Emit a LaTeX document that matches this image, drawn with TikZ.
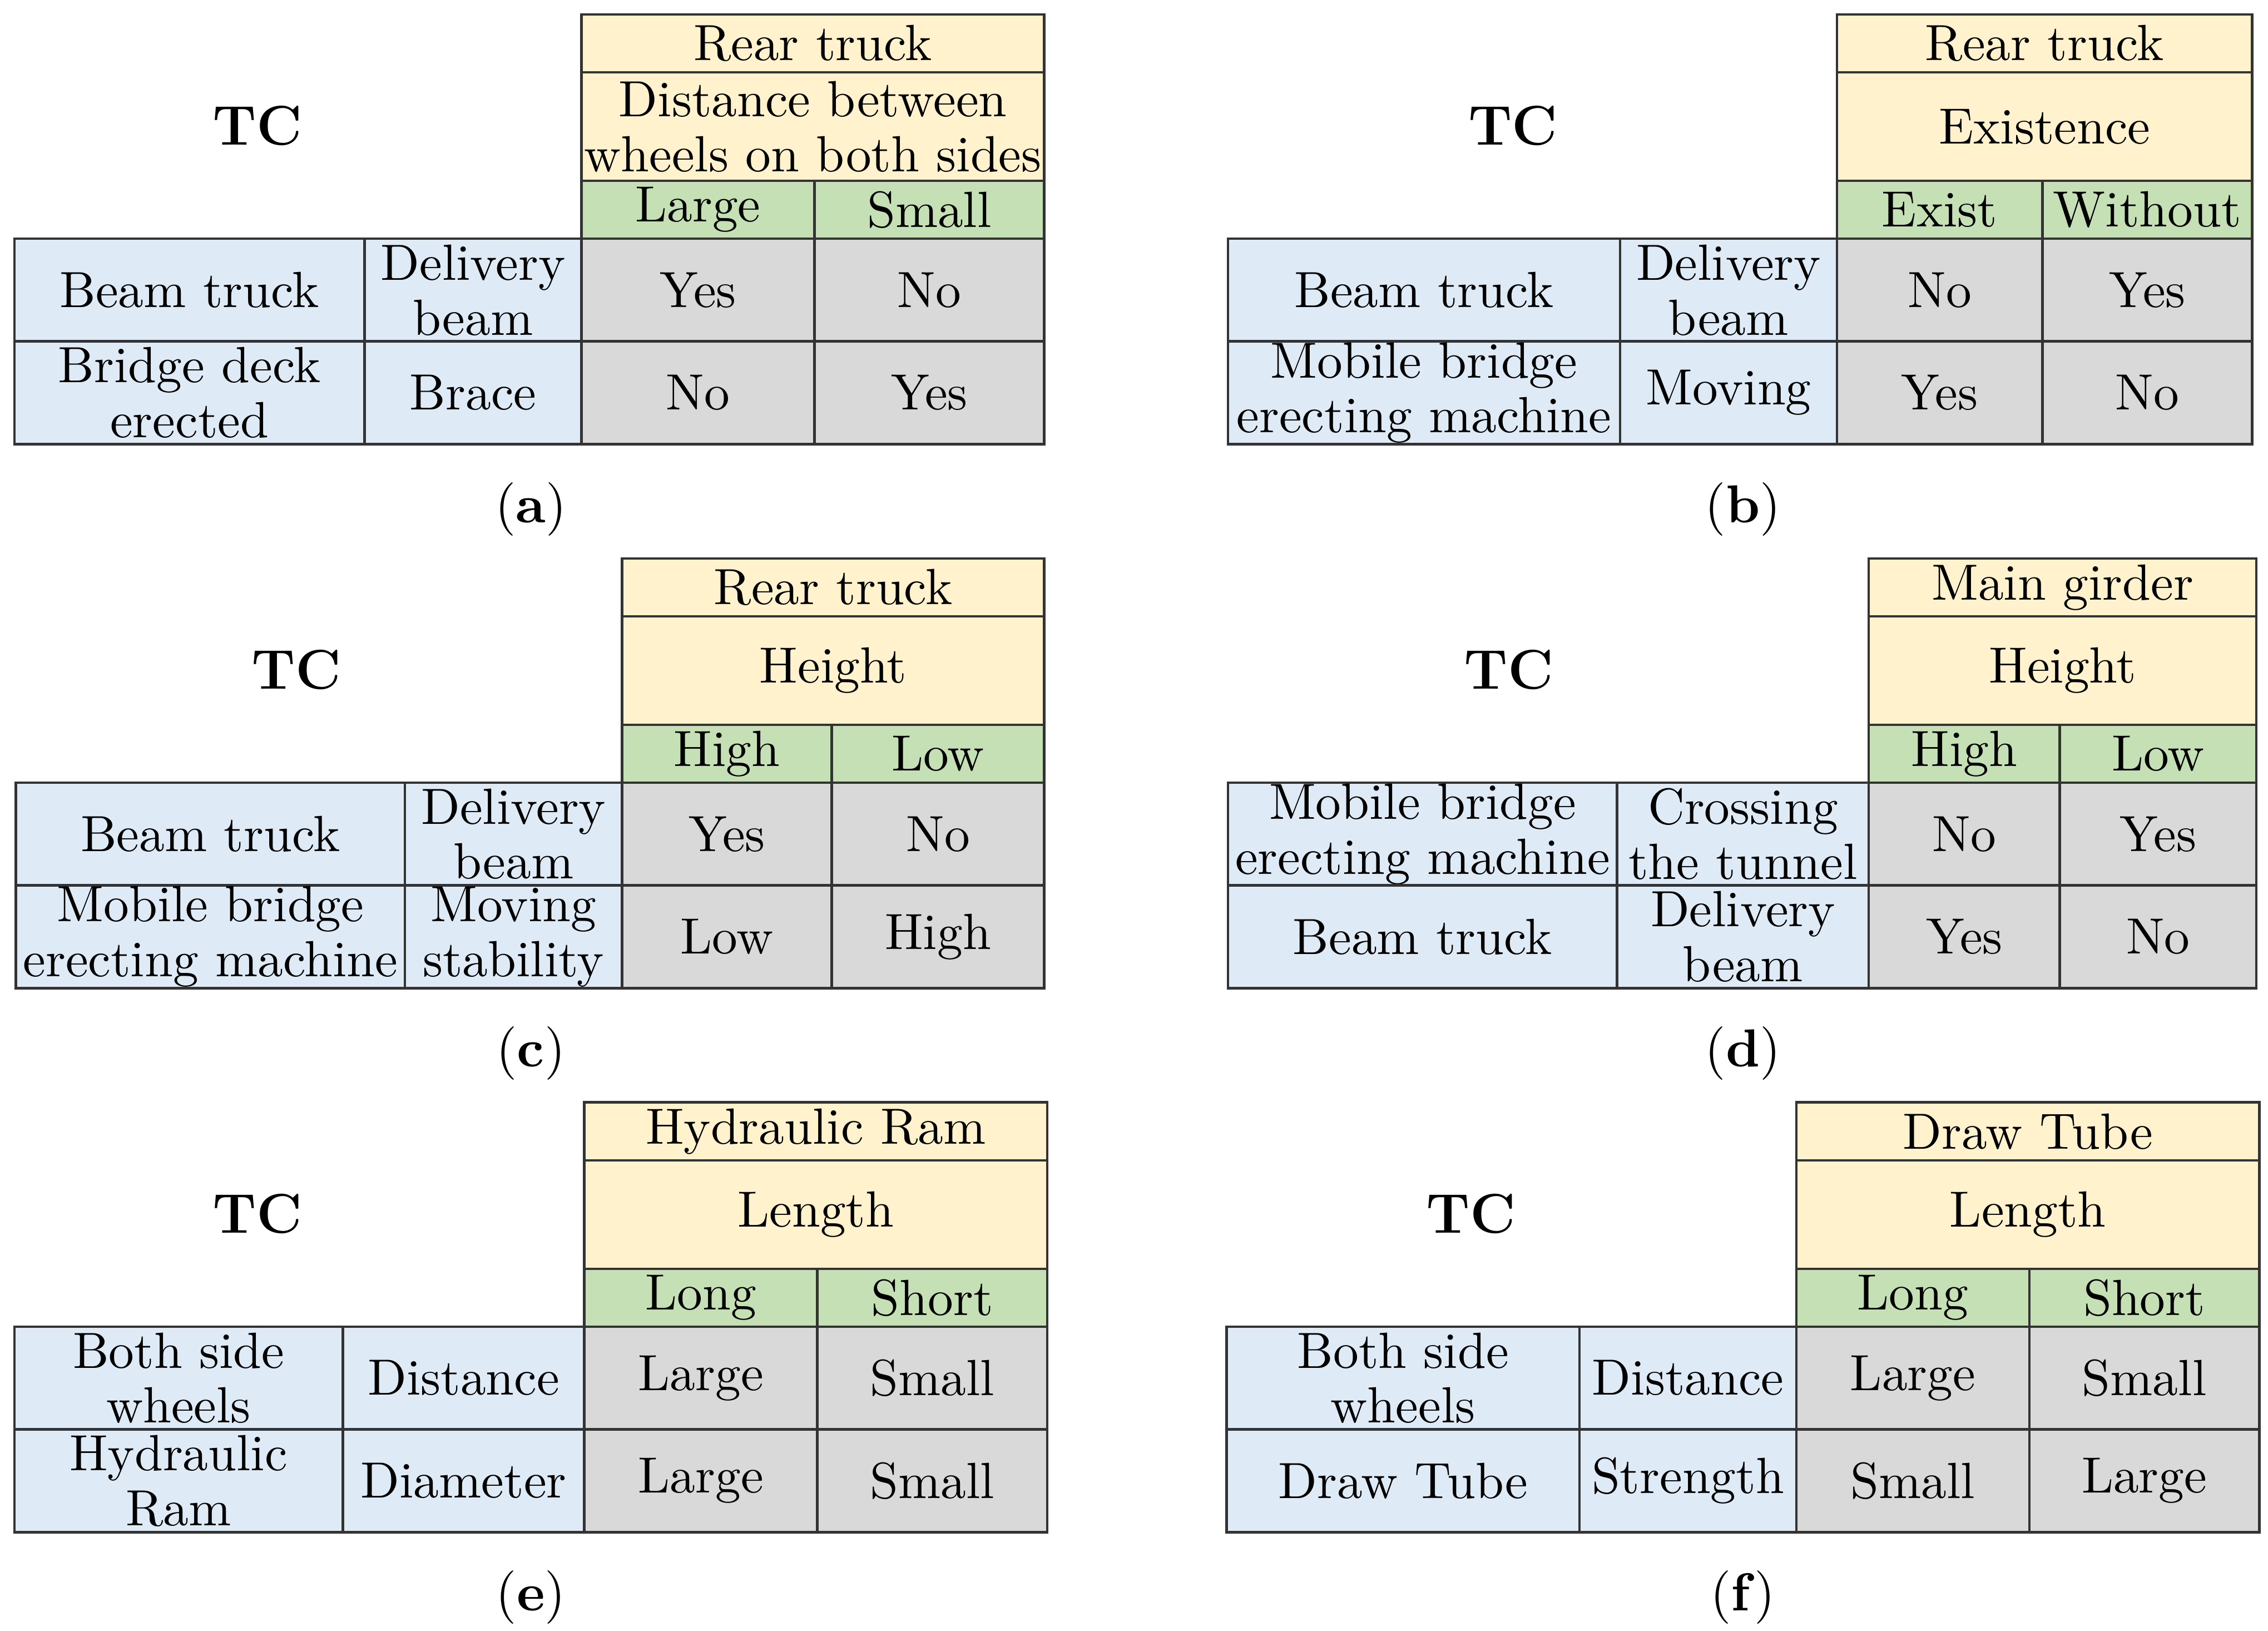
\documentclass[tikz,border=0pt]{standalone}
\usetikzlibrary{positioning}
\definecolor{hdr}{HTML}{FFF2CC}
\definecolor{sub}{HTML}{C5E0B4}
\definecolor{lft}{HTML}{DEEBF7}
\definecolor{val}{HTML}{D9D9D9}
\tikzset{
    cell/.style={draw=black!80, line width=0.5pt, inner sep=0pt, align=center,
        font=\fontsize{10pt}{10.8pt}\selectfont},
    tc/.style={font=\fontsize{11pt}{12pt}\selectfont\bfseries},
    sublabel/.style={font=\fontsize{10.5pt}{12pt}\selectfont}
}
% \tcell{name}{colour}{x1}{x2}{y1}{y2}{text}
\newcommand{\tcell}[7]{%
    \pgfmathsetmacro{\cx}{((#3)+(#4))/2}\pgfmathsetmacro{\cy}{((#5)+(#6))/2}%
    \pgfmathsetmacro{\cw}{((#4)-(#3))*0.01}\pgfmathsetmacro{\ch}{((#6)-(#5))*0.01}%
    \node[cell, fill=#2, minimum width=\cw cm, minimum height=\ch cm] (#1) at (\cx,\cy) {#7};}
\newcommand{\panel}[9]{%
    \def\pid{#1}\def\dy{#2}\def\ca{#3}\def\cb{#4}\def\cc{#5}\def\cd{#6}\def\ce{#7}\def\tcx{#8}\def\capx{#9}\panelb}
\newcommand{\panelb}[9]{%
    \tcell{\pid-top}{hdr}{\cc}{\ce}{10+\dy}{50+\dy}{#1}
    \tcell{\pid-mid}{hdr}{\cc}{\ce}{50+\dy}{125+\dy}{#2}
    \tcell{\pid-sl}{sub}{\cc}{\cd}{125+\dy}{165+\dy}{#3}
    \tcell{\pid-sr}{sub}{\cd}{\ce}{125+\dy}{165+\dy}{#4}
    \tcell{\pid-a1}{lft}{\ca}{\cb}{165+\dy}{236+\dy}{#5}
    \tcell{\pid-b1}{lft}{\cb}{\cc}{165+\dy}{236+\dy}{#6}
    \tcell{\pid-v11}{val}{\cc}{\cd}{165+\dy}{236+\dy}{#7}
    \tcell{\pid-v12}{val}{\cd}{\ce}{165+\dy}{236+\dy}{#8}
    \node[tc] (\pid-tc) at (\tcx,87+\dy) {TC};
    \node[sublabel] (\pid-cap) at (\capx,352+\dy) {(\textbf{\pid})};
    \panelc}
\newcommand{\panelc}[5]{%
    \tcell{\pid-a2}{lft}{\ca}{\cb}{236+\dy}{307+\dy}{#1}
    \tcell{\pid-b2}{lft}{\cb}{\cc}{236+\dy}{307+\dy}{#2}
    \tcell{\pid-v21}{val}{\cc}{\cd}{236+\dy}{307+\dy}{#3}
    \tcell{\pid-v22}{val}{\cd}{\ce}{236+\dy}{307+\dy}{#4}}
\begin{document}
\begin{tikzpicture}[x=0.01cm, y=-0.01cm]
    \useasboundingbox (0,0) rectangle (1568,1127);
    % Panel (a)
    \panel{a}{0}{10}{252}{402}{563}{722}{178}{367}
        {Rear truck}{Distance between\\wheels on both sides}{Large}{Small}
        {Beam truck}{Delivery\\beam}{Yes}{No}{}
        {Bridge deck\\erected}{Brace}{No}{Yes}{}
    % Panel (b)
    \panel{b}{0}{849}{1120}{1270}{1412}{1557}{1046}{1205}
        {Rear truck}{Existence}{Exist}{Without}
        {Beam truck}{Delivery\\beam}{No}{Yes}{}
        {Mobile bridge\\erecting machine}{Moving}{Yes}{No}{}
    % Panel (c)
    \panel{c}{376}{11}{280}{430}{575}{722}{205}{367}
        {Rear truck}{Height}{High}{Low}
        {Beam truck}{Delivery\\beam}{Yes}{No}{}
        {Mobile bridge\\erecting machine}{Moving\\stability}{Low}{High}{}
    % Panel (d)
    \panel{d}{376}{849}{1118}{1292}{1424}{1560}{1043}{1205}
        {Main girder}{Height}{High}{Low}
        {Mobile bridge\\erecting machine}{Crossing\\the tunnel}{No}{Yes}{}
        {Beam truck}{Delivery\\beam}{Yes}{No}{}
    % Panel (e)
    \panel{e}{752}{10}{237}{404}{565}{724}{178}{367}
        {Hydraulic Ram}{Length}{Long}{Short}
        {Both side\\wheels}{Distance}{Large}{Small}{}
        {Hydraulic\\Ram}{Diameter}{Large}{Small}{}
    % Panel (f)
    \panel{f}{752}{848}{1092}{1242}{1403}{1562}{1017}{1205}
        {Draw Tube}{Length}{Long}{Short}
        {Both side\\wheels}{Distance}{Large}{Small}{}
        {Draw Tube}{Strength}{Small}{Large}{}
\end{tikzpicture}
\end{document}
